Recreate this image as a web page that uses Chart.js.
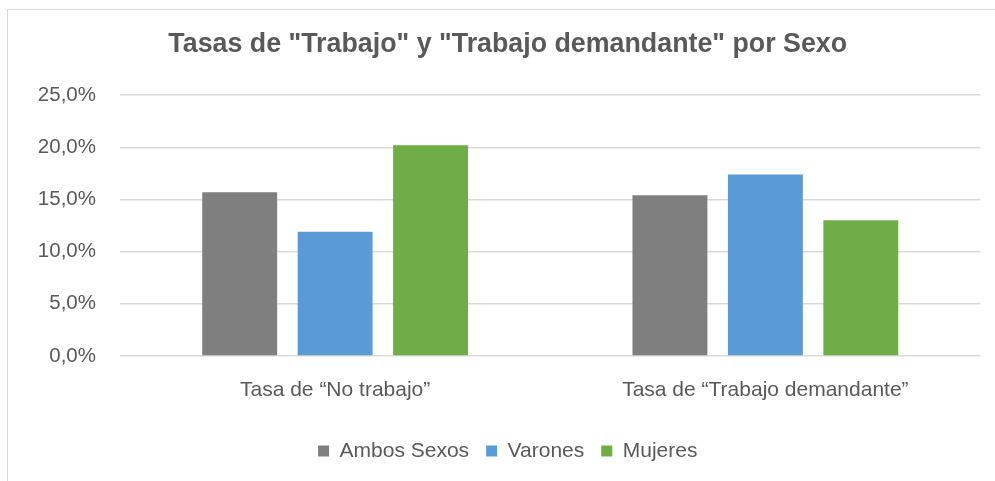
<!DOCTYPE html>
<html>
<head>
<meta charset="utf-8">
<script src="https://cdn.jsdelivr.net/npm/chart.js@4/dist/chart.umd.min.js"></script>
<style>
  html, body { margin: 0; padding: 0; background: #ffffff; overflow: hidden; }
  #wrap { position: relative; width: 995px; height: 481px; }
  #frame { position: absolute; left: 7px; top: 9px; width: 1100px; height: 600px;
           border-left: 1.5px solid #d9d9d9; border-top: 1.5px solid #d9d9d9; box-sizing: border-box; }
  canvas { position: absolute; left: 0; top: 0; }
</style>
</head>
<body>
<div id="wrap">
  <div id="frame"></div>
  <canvas id="c" width="995" height="481"></canvas>
</div>
<script>
const titleText = 'Tasas de "Trabajo" y "Trabajo demandante" por Sexo';
const categories = ['Tasa de \u201CNo trabajo\u201D', 'Tasa de \u201CTrabajo demandante\u201D'];
const seriesNames = ['Ambos Sexos', 'Varones', 'Mujeres'];
const ambosSexos = [15.7, 15.4];
const varones = [11.9, 17.4];
const mujeres = [20.2, 13.0];
const yTicks = [0, 5, 10, 15, 20, 25];

const colors = ['#7f7f7f', '#5b9bd5', '#70ad47'];
const textColor = '#595959';
const fontFamily = '"Liberation Sans", Arial, Helvetica, sans-serif';

const datasets = [ambosSexos, varones, mujeres].map((vals, i) => ({
  label: seriesNames[i],
  data: vals,
  backgroundColor: colors[i],
  borderWidth: 0,
  categoryPercentage: 0.6655,
  barPercentage: 0.785
}));

new Chart(document.getElementById('c'), {
  type: 'bar',
  data: { labels: categories, datasets },
  options: {
    responsive: false,
    animation: false,
    layout: { padding: { left: 35, right: 14.5, top: 0, bottom: 9.5 } },
    plugins: {
      title: {
        display: true,
        text: titleText,
        color: textColor,
        font: { family: fontFamily, size: 26.8, weight: 'bold', lineHeight: 1.2 },
        padding: { top: 28.5, bottom: 34.5 }
      },
      legend: {
        position: 'bottom',
        labels: {
          color: textColor,
          font: { family: fontFamily, size: 21 },
          boxWidth: 11,
          boxHeight: 11,
          padding: 17
        }
      },
      tooltip: { enabled: false }
    },
    scales: {
      x: {
        grid: { display: false, drawTicks: false },
        border: { display: false },
        ticks: { color: textColor, font: { family: fontFamily, size: 21 }, padding: 22 },
        afterFit: (s) => { s.height = 67.5; }
      },
      y: {
        min: 0, max: 25,
        afterBuildTicks: (s) => { s.ticks = yTicks.map(v => ({ value: v })); },
        grid: { color: '#d9d9d9', lineWidth: 1.4, drawTicks: false },
        border: { display: false },
        ticks: {
          color: textColor,
          font: { family: fontFamily, size: 20.5 },
          padding: 24,
          callback: (v) => v.toFixed(1).replace('.', ',') + '%'
        },
        afterFit: (s) => { s.width = 85; }
      }
    }
  }
});
</script>
</body>
</html>
